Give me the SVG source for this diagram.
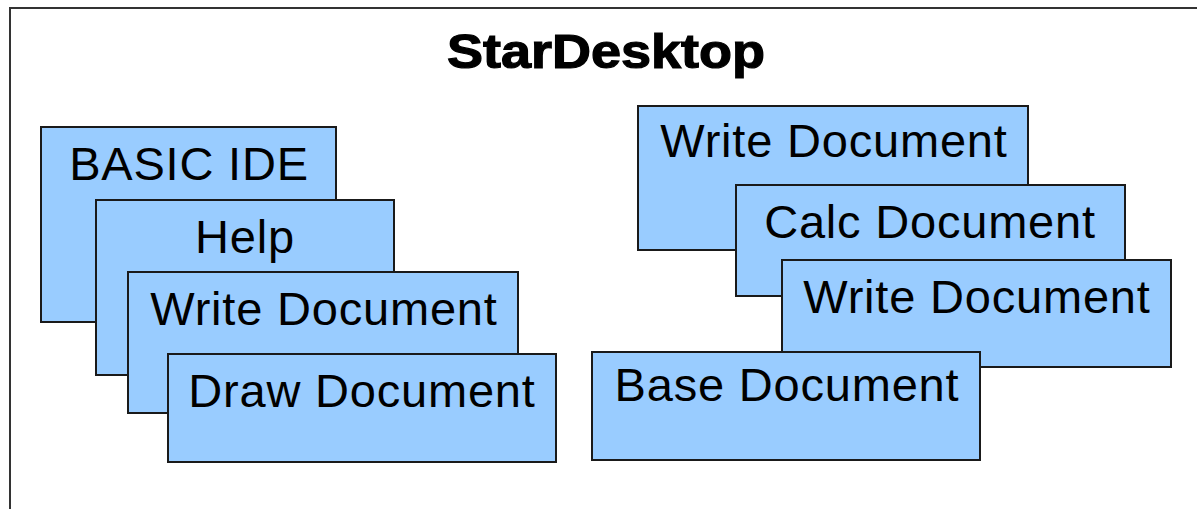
<svg xmlns="http://www.w3.org/2000/svg" width="1197" height="509" viewBox="0 0 1197 509">
<style>
.box{fill:#99ccff;stroke:#1a1a1a;stroke-width:2}
.lbl{font-family:"Liberation Sans",Arial,sans-serif;font-size:47px;letter-spacing:0.8px;fill:#000;text-anchor:middle}
.title{font-family:"Liberation Sans",Arial,sans-serif;font-size:48px;font-weight:bold;fill:#000;stroke:#000;stroke-width:1.2}
</style>
<rect width="1197" height="509" fill="#fff"/>
<g id="frame">
<path d="M10,520 V8 H1210" fill="none" stroke="#333" stroke-width="2"/>
<text class="title" x="447" y="68" textLength="318" lengthAdjust="spacingAndGlyphs">StarDesktop</text>
</g>
<g id="basic-ide"><rect class="box" x="41" y="127" width="295" height="195"/><text class="lbl" x="189" y="180">BASIC IDE</text></g>
<g id="help"><rect class="box" x="96" y="200" width="298" height="175"/><text class="lbl" x="245" y="253">Help</text></g>
<g id="write-left"><rect class="box" x="128" y="272" width="390" height="141"/><text class="lbl" x="324" y="325">Write Document</text></g>
<g id="draw"><rect class="box" x="168" y="354" width="388" height="108"/><text class="lbl" x="362" y="407">Draw Document</text></g>
<g id="write-right1"><rect class="box" x="638" y="106" width="390" height="144"/><text class="lbl" x="834" y="157">Write Document</text></g>
<g id="calc"><rect class="box" x="736" y="185" width="389" height="111"/><text class="lbl" x="930" y="238">Calc Document</text></g>
<g id="write-right2"><rect class="box" x="782" y="260" width="389" height="107"/><text class="lbl" x="977" y="313">Write Document</text></g>
<g id="base"><rect class="box" x="592" y="352" width="388" height="108"/><text class="lbl" x="787" y="401">Base Document</text></g>
<g id="connectors"></g>
</svg>
